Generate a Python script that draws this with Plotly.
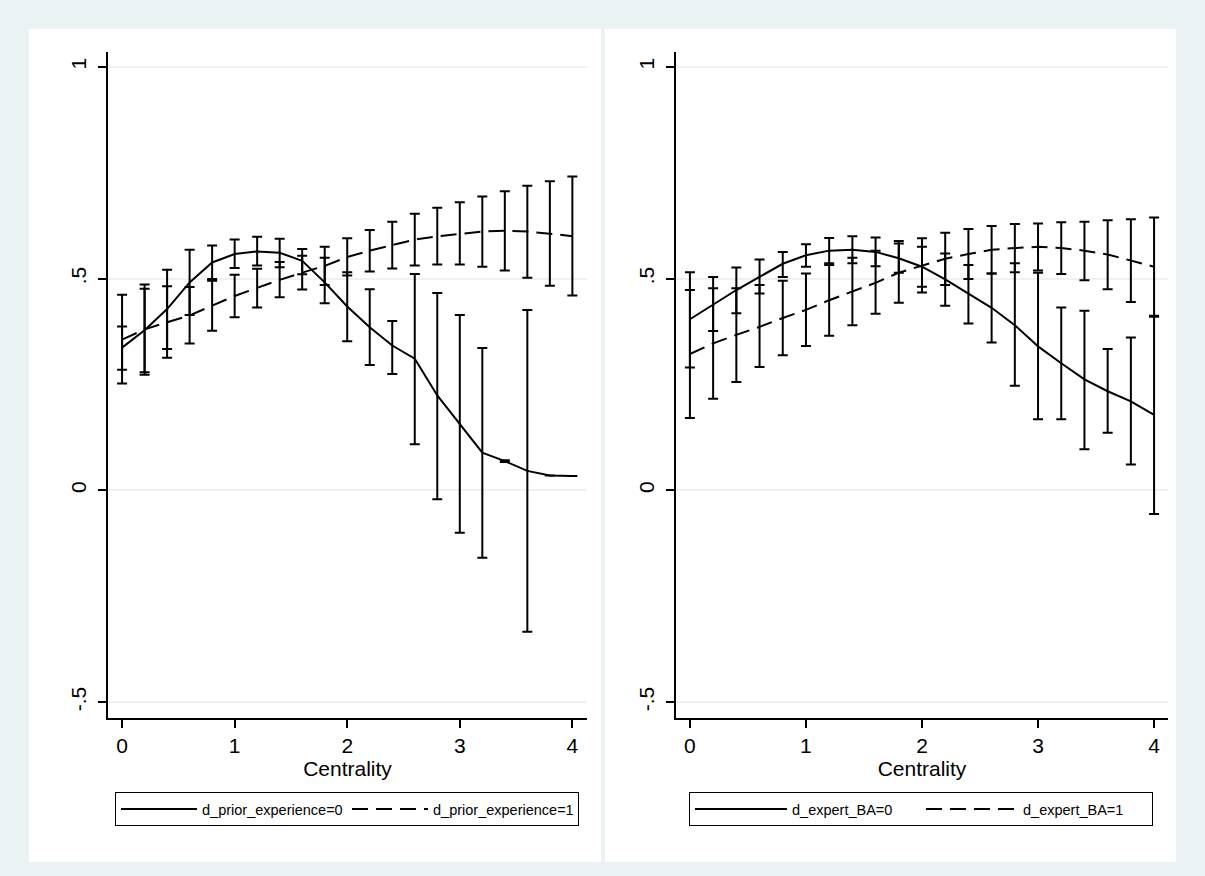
import plotly.graph_objects as go

# ---------------- data ----------------
centrality = [0.0, 0.2, 0.4, 0.6, 0.8, 1.0, 1.2, 1.4, 1.6, 1.8, 2.0,
              2.2, 2.4, 2.6, 2.8, 3.0, 3.2, 3.4, 3.6, 3.8, 4.0]

# Left panel: d_prior_experience
prior0 = [0.337, 0.378, 0.428, 0.491, 0.538, 0.558, 0.564, 0.561, 0.542, 0.491, 0.434,
          0.385, 0.342, 0.311, 0.224, 0.157, 0.089, 0.069, 0.046, 0.035, 0.034]
prior0_lo = [0.285, 0.279, 0.334, 0.414, 0.499, 0.525, 0.531, 0.527, 0.510, 0.442, 0.352,
             0.296, 0.275, 0.109, -0.021, -0.100, -0.159, 0.067, -0.334, 0.035, 0.034]
prior0_hi = [0.387, 0.476, 0.521, 0.568, 0.578, 0.592, 0.599, 0.594, 0.570, 0.549, 0.515,
             0.475, 0.400, 0.511, 0.466, 0.414, 0.336, 0.071, 0.426, 0.035, 0.034]

prior1 = [0.356, 0.380, 0.397, 0.413, 0.436, 0.459, 0.478, 0.497, 0.514, 0.530, 0.551,
          0.566, 0.579, 0.592, 0.600, 0.606, 0.611, 0.613, 0.611, 0.606, 0.600]
prior1_lo = [0.252, 0.273, 0.313, 0.347, 0.377, 0.409, 0.432, 0.456, 0.474, 0.485, 0.507,
             0.517, 0.524, 0.531, 0.533, 0.533, 0.528, 0.519, 0.502, 0.483, 0.460]
prior1_hi = [0.462, 0.486, 0.482, 0.480, 0.495, 0.509, 0.523, 0.539, 0.554, 0.575, 0.595,
             0.615, 0.634, 0.653, 0.667, 0.680, 0.694, 0.706, 0.719, 0.730, 0.741]

# Right panel: d_expert_BA
expert0 = [0.404, 0.439, 0.473, 0.504, 0.535, 0.555, 0.566, 0.568, 0.563, 0.548, 0.528,
           0.498, 0.464, 0.431, 0.390, 0.340, 0.300, 0.262, 0.234, 0.210, 0.178]
expert0_lo = [0.290, 0.376, 0.418, 0.465, 0.504, 0.528, 0.536, 0.536, 0.529, 0.514, 0.481,
              0.436, 0.394, 0.349, 0.247, 0.168, 0.168, 0.097, 0.136, 0.061, -0.056]
expert0_hi = [0.515, 0.504, 0.526, 0.545, 0.563, 0.581, 0.596, 0.600, 0.597, 0.583, 0.575,
              0.559, 0.532, 0.512, 0.536, 0.514, 0.432, 0.424, 0.334, 0.361, 0.410]

expert1 = [0.322, 0.347, 0.367, 0.386, 0.407, 0.426, 0.449, 0.470, 0.490, 0.514, 0.531,
           0.547, 0.558, 0.568, 0.572, 0.575, 0.572, 0.566, 0.557, 0.543, 0.528]
expert1_lo = [0.171, 0.216, 0.256, 0.291, 0.319, 0.341, 0.365, 0.390, 0.417, 0.443, 0.467,
              0.485, 0.499, 0.512, 0.515, 0.519, 0.511, 0.496, 0.475, 0.445, 0.412]
expert1_hi = [0.473, 0.477, 0.477, 0.485, 0.495, 0.512, 0.532, 0.549, 0.566, 0.589, 0.595,
              0.608, 0.617, 0.624, 0.629, 0.630, 0.633, 0.634, 0.638, 0.640, 0.644]

y_tickvals = [-0.5, 0, 0.5, 1]
y_ticktext = ["-.5", "0", ".5", "1"]
x_tickvals = [0, 1, 2, 3, 4]
x_ticktext = ["0", "1", "2", "3", "4"]

labels_left = ["d_prior_experience=0", "d_prior_experience=1"]
labels_right = ["d_expert_BA=0", "d_expert_BA=1"]
x_title = "Centrality"

# ---------------- styling ----------------
W, H = 1205, 876
FONT = "Liberation Sans, Arial, sans-serif"
BG = "#EAF2F3"
DASH = "16px,8px"


def px_x(p):
    return p / W


def px_y(p):
    return 1 - p / H


def trace(x, v, lo, hi, name, dash, xa, ya, legend):
    return go.Scatter(
        x=x, y=v, mode="lines", name=name,
        line=dict(color="black", width=2, dash=dash),
        error_y=dict(type="data", symmetric=False,
                     array=[h - m for h, m in zip(hi, v)],
                     arrayminus=[m - l for m, l in zip(v, lo)],
                     color="black", thickness=2, width=5),
        xaxis=xa, yaxis=ya, legend=legend, hoverinfo="skip",
    )


fig = go.Figure()
fig.add_trace(trace(centrality, prior0, prior0_lo, prior0_hi, labels_left[0], "solid", "x", "y", "legend"))
fig.add_trace(trace(centrality, prior1, prior1_lo, prior1_hi, labels_left[1], DASH, "x", "y", "legend"))
fig.add_trace(trace(centrality, expert0, expert0_lo, expert0_hi, labels_right[0], "solid", "x2", "y2", "legend2"))
fig.add_trace(trace(centrality, expert1, expert1_lo, expert1_hi, labels_right[1], DASH, "x2", "y2", "legend2"))

ydom = [px_y(718), px_y(52)]
yrange = [-0.5375, 1.035]

common_x = dict(
    tickvals=x_tickvals, ticktext=x_ticktext, ticks="outside", ticklen=8, tickwidth=1.5,
    tickcolor="black", showline=True, linecolor="black", linewidth=1.5, showgrid=False,
    zeroline=False, tickfont=dict(family=FONT, size=21, color="black"),
    title=dict(text=x_title, font=dict(family=FONT, size=21, color="black"), standoff=2),
)
common_y = dict(
    tickvals=y_tickvals, ticktext=y_ticktext, ticks="outside", ticklen=8, tickwidth=1.5,
    tickcolor="black", showline=True, linecolor="black", linewidth=1.5, showgrid=True,
    gridcolor=BG, gridwidth=2, zeroline=False, tickangle=-90, range=yrange,
    ticklabelstandoff=4,
    tickfont=dict(family=FONT, size=21, color="black"),
)

leg_common = dict(
    orientation="h", xanchor="left", yanchor="top", bgcolor="white",
    bordercolor="black", borderwidth=1, font=dict(family=FONT, size=14.5, color="black"),
)

fig.update_layout(
    width=W, height=H, paper_bgcolor=BG, plot_bgcolor="white",
    margin=dict(l=0, r=0, t=0, b=0),
    xaxis=dict(domain=[px_x(108), px_x(587)], range=[-0.125, 4.13], anchor="y", **common_x),
    yaxis=dict(domain=ydom, anchor="x", **common_y),
    xaxis2=dict(domain=[px_x(676), px_x(1168)], range=[-0.12, 4.12], anchor="y2", **common_x),
    yaxis2=dict(domain=ydom, anchor="x2", **common_y),
    legend=dict(x=px_x(115), y=px_y(792), itemwidth=76, entrywidth=140, **leg_common),
    legend2=dict(x=px_x(689), y=px_y(792), itemwidth=92, entrywidth=124, **leg_common),
    shapes=[
        dict(type="rect", xref="paper", yref="paper", layer="below",
             x0=px_x(29), x1=px_x(601), y0=px_y(862), y1=px_y(29),
             fillcolor="white", line=dict(width=0)),
        dict(type="rect", xref="paper", yref="paper", layer="below",
             x0=px_x(605), x1=px_x(1176), y0=px_y(862), y1=px_y(29),
             fillcolor="white", line=dict(width=0)),
    ],
)

fig.write_html(
    "out.html",
    config={"displayModeBar": False},
    post_script="document.body.style.margin='0';document.body.style.padding='0';"
                "document.body.style.overflow='hidden';",
)
